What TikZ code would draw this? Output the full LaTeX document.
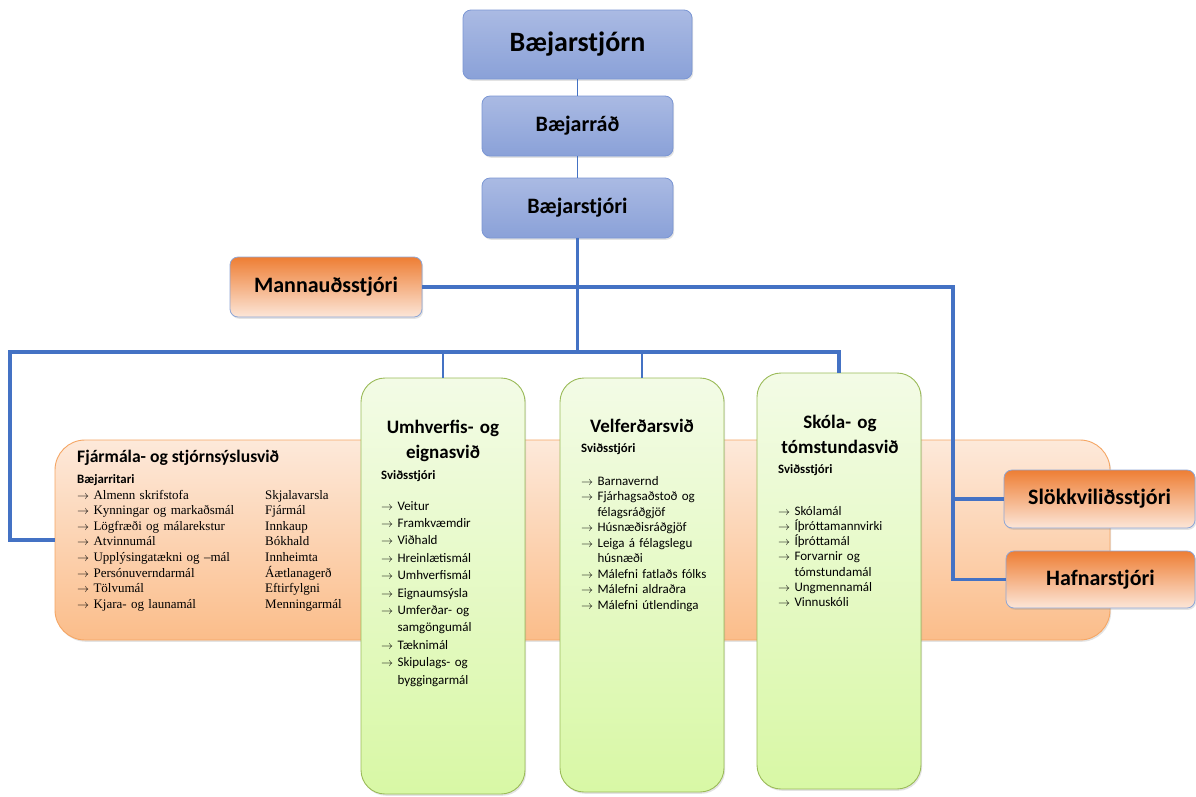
\documentclass[tikz,border=0pt]{standalone}
\usepackage{fontspec}
\setmainfont{Carlito}
\newfontfamily\tmsfont{Liberation Serif}
\usetikzlibrary{shadows}
\definecolor{lineblue}{HTML}{4472C4}
\definecolor{bluetop}{HTML}{AABAE3}
\definecolor{bluebot}{HTML}{8AA1D8}
\definecolor{blueedge}{HTML}{7A96D4}
\definecolor{orgtop}{HTML}{EE7E34}
\definecolor{orgbot}{HTML}{FCE6D8}
\definecolor{orgedge}{HTML}{8EA6D6}
\definecolor{bigtop}{HTML}{FDE9DA}
\definecolor{bigbot}{HTML}{FBBD8A}
\definecolor{bigedge}{HTML}{F5A664}
\definecolor{grntop}{HTML}{F3FBE6}
\definecolor{grnbot}{HTML}{D8F8A5}
\definecolor{grnedge}{HTML}{9BBB59}
\newcommand\itemarrow{$\rightarrow$\ }
\newcommand\contind{\phantom{$\rightarrow$}\ }
\begin{document}
\begin{tikzpicture}[x=1pt,y=-1pt,
  shade/.style={drop shadow={opacity=0.22,shadow xshift=1.2pt,shadow yshift=-1.8pt}},
  bluebox/.style={shade,draw=blueedge,line width=0.8pt,rounded corners=8pt,top color=bluetop,bottom color=bluebot,inner sep=0pt,font=\bfseries\fontsize{22}{26}\selectfont},
  orgbox/.style={shade,draw=orgedge,line width=0.8pt,rounded corners=8pt,top color=orgtop,bottom color=orgbot,inner sep=0pt,font=\bfseries\fontsize{22}{26}\selectfont},
  bigbox/.style={shade,draw=bigedge,line width=0.9pt,rounded corners=30pt,top color=bigtop,bottom color=bigbot,inner sep=0pt},
  grnbox/.style={shade,draw=grnedge,line width=0.9pt,rounded corners=24pt,top color=grntop,bottom color=grnbot,inner sep=0pt},
  conn/.style={draw=lineblue,line width=1.8pt},
  connmid/.style={draw=lineblue,line width=2.6pt},
  connthick/.style={draw=lineblue,line width=3.2pt},
  head/.style={inner sep=0pt,font=\bfseries\fontsize{19}{25}\selectfont,text width=160pt,align=center,anchor=base},
  sub/.style={inner sep=0pt,font=\bfseries\fontsize{12.8}{15}\selectfont,anchor=base west},
  list/.style={inner sep=0pt,anchor=base west,align=left,text width=#1},
]
\useasboundingbox (0,0) rectangle (1196,796);
\fill[white] (0,0) rectangle (1196,796);

% big orange box and green boxes
\node[bigbox,minimum width=1055pt,minimum height=200pt] (big) at (582.5,540) {};
\node[grnbox,minimum width=164pt,minimum height=416pt] (g1) at (443,586) {};
\node[grnbox,minimum width=164pt,minimum height=414pt] (g2) at (642,585) {};
\node[grnbox,minimum width=164pt,minimum height=416pt] (g3) at (839,581) {};

% top boxes
\node[bluebox,minimum width=229pt,minimum height=69pt,font=\bfseries\fontsize{28}{32}\selectfont] (bs) at (577.5,44.5) {Bæjarstjórn};
\node[bluebox,minimum width=191pt,minimum height=60pt] (br) at (577.5,126) {Bæjarráð};
\node[bluebox,minimum width=191pt,minimum height=60pt] (bsi) at (577.5,208) {Bæjarstjóri};
\node[orgbox,minimum width=192pt,minimum height=60pt] (mann) at (326,287) {Mannauðsstjóri};
\node[orgbox,minimum width=191pt,minimum height=58pt] (slo) at (1099.5,499) {Slökkviliðsstjóri};
\node[orgbox,minimum width=189pt,minimum height=57pt] (haf) at (1100.5,579.5) {Hafnarstjóri};

% Fjármála texts
\node[inner sep=0pt,anchor=base west,font=\bfseries\fontsize{17.6}{21}\selectfont] (ft) at (77,462) {Fjármála- og stjórnsýslusvið};
\node[sub] (fs) at (77,483) {Bæjarritari};
\node[list=185pt,font=\tmsfont\fontsize{13}{15.6}\selectfont] (fl) at (77,499) {\itemarrow Almenn skrifstofa\\ \itemarrow Kynningar og markaðsmál\\ \itemarrow Lögfræði og málarekstur\\ \itemarrow Atvinnumál\\ \itemarrow Upplýsingatækni og –mál\\ \itemarrow Persónuverndarmál\\ \itemarrow Tölvumál\\ \itemarrow Kjara- og launamál};
\node[list=90pt,font=\tmsfont\fontsize{13}{15.6}\selectfont] (fr) at (265,499) {Skjalavarsla\\ Fjármál\\ Innkaup\\ Bókhald\\ Innheimta\\ Áætlanagerð\\ Eftirfylgni\\ Menningarmál};

% green texts
\node[head] (g1t) at (443,433) {Umhverfis- og\\eignasvið};
\node[sub] (g1s) at (381,479) {Sviðsstjóri};
\node[list=145pt,font=\fontsize{13}{17.4}\selectfont] (g1l) at (381,510) {\itemarrow Veitur\\ \itemarrow Framkvæmdir\\ \itemarrow Viðhald\\ \itemarrow Hreinlætismál\\ \itemarrow Umhverfismál\\ \itemarrow Eignaumsýsla\\ \itemarrow Umferðar- og\\ \contind samgöngumál\\ \itemarrow Tæknimál\\ \itemarrow Skipulags- og\\ \contind byggingarmál};

\node[head] (g2t) at (642,432) {Velferðarsvið};
\node[sub] (g2s) at (581,452) {Sviðsstjóri};
\node[list=150pt,font=\fontsize{13}{15.5}\selectfont] (g2l) at (581,485) {\itemarrow Barnavernd\\ \itemarrow Fjárhagsaðstoð og\\ \contind félagsráðgjöf\\ \itemarrow Húsnæðisráðgjöf\\ \itemarrow Leiga á félagslegu\\ \contind húsnæði\\ \itemarrow Málefni fatlaðs fólks\\ \itemarrow Málefni aldraðra\\ \itemarrow Málefni útlendinga};

\node[head] (g3t) at (840,428) {Skóla- og\\tómstundasvið};
\node[sub] (g3s) at (778,473) {Sviðsstjóri};
\node[list=145pt,font=\fontsize{13}{15.3}\selectfont] (g3l) at (778,515) {\itemarrow Skólamál\\ \itemarrow Íþróttamannvirki\\ \itemarrow Íþróttamál\\ \itemarrow Forvarnir og\\ \contind tómstundamál\\ \itemarrow Ungmennamál\\ \itemarrow Vinnuskóli};

% connectors
\coordinate (jl) at (10,352);
\coordinate (jr) at (g3.north |- jl);
\coordinate (rv) at (953,287);
\draw[conn] (bs) -- (br);
\draw[conn] (br) -- (bsi);
\draw[connmid] (bsi.south) -- (bsi.south |- jl);
\draw[connthick] (big.west) -| (jl) -- (jr) -- (g3.north);
\draw[connmid] (g1.north |- jl) -- (g1.north);
\draw[connmid] (g2.north |- jl) -- (g2.north);
\draw[connthick] (mann.east) -- (mann.east -| rv) |- (haf.west);
\draw[connthick] (rv |- slo.west) -- (slo.west);
\end{tikzpicture}
\end{document}
